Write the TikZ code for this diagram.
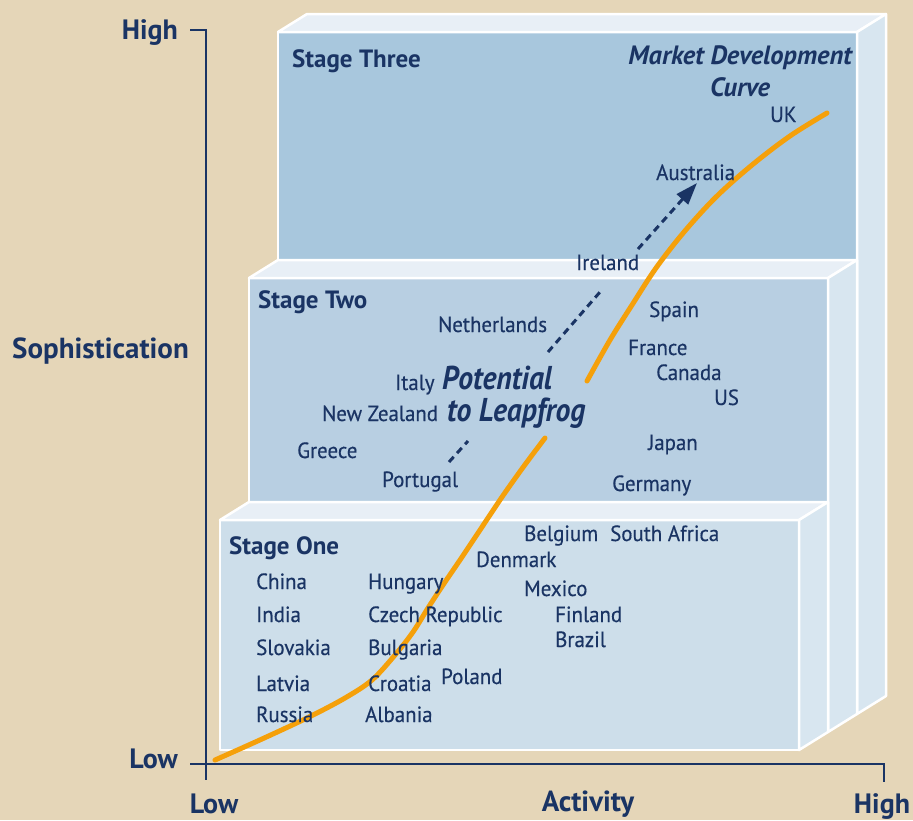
\documentclass[tikz,border=0pt]{standalone}
\usepackage{fontspec}
\setmainfont{PT Sans}
\newfontfamily\cond[FakeStretch=0.95,FakeBold=0.4]{PT Sans}
\newfontfamily\condx[FakeStretch=0.9]{PT Sans}
\newfontfamily\axisf{PT Sans}
\usetikzlibrary{arrows.meta}
\definecolor{bg}{RGB}{229,214,184}
\definecolor{frontA}{RGB}{168,199,221}
\definecolor{frontB}{RGB}{184,207,226}
\definecolor{frontC}{RGB}{205,222,234}
\definecolor{topc}{RGB}{232,239,246}
\definecolor{sidec}{RGB}{216,230,240}
\definecolor{navy}{RGB}{26,52,100}
\definecolor{curvec}{RGB}{245,160,10}
\begin{document}
\begin{tikzpicture}[x=1pt,y=-1pt,
  edge/.style={draw=white,line width=2.5pt,line join=round},
  ctry/.style={font=\cond\fontsize{22}{22}\selectfont,text=navy,inner sep=0pt,anchor=base west},
  stagelbl/.style={font=\axisf\bfseries\fontsize{25}{25}\selectfont,text=navy,inner sep=0pt,anchor=base west},
  axlbl/.style={font=\axisf\bfseries\fontsize{29}{29}\selectfont,text=navy,inner sep=0pt},
  hilo/.style={font=\axisf\bfseries\fontsize{28}{28}\selectfont,text=navy,inner sep=0pt},
  emph/.style={font=\condx\bfseries\itshape\fontsize{33}{33}\selectfont,text=navy,inner sep=0pt,anchor=base west},
  mdlbl/.style={font=\axisf\bfseries\itshape\fontsize{26.5}{26.5}\selectfont,text=navy,inner sep=0pt},
  axisline/.style={draw=navy,line width=2pt},
  mdc/.style={draw=curvec,line width=5pt,line cap=round},
  leap/.style={draw=navy,line width=3pt,dash pattern=on 7pt off 5pt}]
\fill[bg] (0,0) rectangle (913,820);
\useasboundingbox (0,0) rectangle (913,820);
% Stage Three slab
\fill[frontA] (278,32) rectangle (857,714);
\filldraw[fill=topc,edge] (278,32) -- (307,14) -- (886,14) -- (857,32) -- cycle;
\filldraw[fill=sidec,edge] (857,32) -- (886,14) -- (886,696) -- (857,714) -- cycle;
\draw[edge] (278,714) -- (278,32) -- (857,32) -- (857,714);
% Stage Two slab
\fill[frontB] (249,278) rectangle (828,732);
\filldraw[fill=topc,edge] (249,278) -- (278,260) -- (857,260) -- (828,278) -- cycle;
\filldraw[fill=sidec,edge] (828,278) -- (857,260) -- (857,714) -- (828,732) -- cycle;
\draw[edge] (249,732) -- (249,278) -- (828,278) -- (828,732);
% Stage One slab
\fill[frontC] (220,520) rectangle (799,750);
\filldraw[fill=topc,edge] (220,520) -- (249,502) -- (828,502) -- (799,520) -- cycle;
\filldraw[fill=sidec,edge] (799,520) -- (828,502) -- (828,732) -- (799,750) -- cycle;
\draw[edge] (220,520) rectangle (799,750);
% axes
\coordinate (ytop) at (206,30);
\coordinate (ybot) at (206,780);
\coordinate (ytick) at (190,30);
\coordinate (xleft) at (190,764);
\coordinate (xright) at (884,764);
\coordinate (xtick) at (884,782);
\draw[axisline] (ytick) -- (ytop) -- (ybot);
\draw[axisline] (xleft) -- (xright) -- (xtick);
\node[hilo,anchor=base east] (yhigh) at (178,39) {High};
\node[hilo,anchor=base east] (ylow) at (178,768) {Low};
\node[axlbl,anchor=base west] (ylab) at (12,358) {Sophistication};
\node[axlbl,anchor=base] (xlab) at (588,811) {Activity};
\node[hilo,anchor=base] (xlow) at (214,813) {Low};
\node[hilo,anchor=base] (xhigh) at (882,813) {High};
% market development curve
\draw[mdc] plot[smooth,tension=0.55] coordinates {(215,760) (262,739) (309,717) (345,698) (372,680) (395,655) (413,632) (428,608) (443,585) (460,560) (480,530) (502,497) (524,466) (545,438)};
\draw[mdc] plot[smooth,tension=0.55] coordinates {(587,381) (610,340) (632,305) (656,268) (684,232) (716,197) (752,165) (790,136) (827,113)};
% leapfrog arrow
\coordinate (l0) at (449,462);
\coordinate (l1) at (468,441);
\coordinate (l2) at (548,352);
\coordinate (l3) at (600,292);
\coordinate (l4) at (638,249);
\coordinate (l5) at (697,183);
\draw[leap] (l0) -- (l1);
\draw[leap] (l2) -- (l3);
\draw[leap,-{Triangle[length=22pt,width=15pt]}] (l4) -- (l5);
% stage labels
\node[stagelbl] (s3) at (292,67) {Stage Three};
\node[stagelbl] (s2) at (258,308) {Stage Two};
\node[stagelbl] (s1) at (229,554) {Stage One};
\node[mdlbl,anchor=base east] (mdc1) at (852,64) {Market Development};
\node[mdlbl,anchor=base] (mdc2) at (740,96) {Curve};
\node[emph] (pot) at (442,389) {Potential};
\node[emph] (ptl) at (447,421) {to Leapfrog};
% countries
\node[ctry] (uk) at (770,122) {UK};
\node[ctry] (aus) at (656,180) {Australia};
\node[ctry] (ire) at (576,270) {Ireland};
\node[ctry] (spa) at (649,317) {Spain};
\node[ctry] (net) at (438,332) {Netherlands};
\node[ctry] (fra) at (628,355) {France};
\node[ctry] (can) at (656,380) {Canada};
\node[ctry] (us) at (714,405) {US};
\node[ctry] (ita) at (395,390) {Italy};
\node[ctry] (nz) at (322,421) {New Zealand};
\node[ctry] (gre) at (297,458) {Greece};
\node[ctry] (por) at (382,487) {Portugal};
\node[ctry] (jap) at (648,450) {Japan};
\node[ctry] (ger) at (612,491) {Germany};
\node[ctry] (bel) at (524,541) {Belgium};
\node[ctry] (saf) at (610,541) {South Africa};
\node[ctry] (den) at (476,567) {Denmark};
\node[ctry] (mex) at (524,596) {Mexico};
\node[ctry] (fin) at (555,622) {Finland};
\node[ctry] (bra) at (555,647) {Brazil};
\node[ctry] (chi) at (256,589) {China};
\node[ctry] (ind) at (256,622) {India};
\node[ctry] (slo) at (256,655) {Slovakia};
\node[ctry] (lat) at (256,691) {Latvia};
\node[ctry] (rus) at (256,722) {Russia};
\node[ctry] (hun) at (368,589) {Hungary};
\node[ctry] (cze) at (368,622) {Czech Republic};
\node[ctry] (bul) at (368,655) {Bulgaria};
\node[ctry] (cro) at (368,691) {Croatia};
\node[ctry] (pol) at (441,684) {Poland};
\node[ctry] (alb) at (365,722) {Albania};
\end{tikzpicture}
\end{document}
